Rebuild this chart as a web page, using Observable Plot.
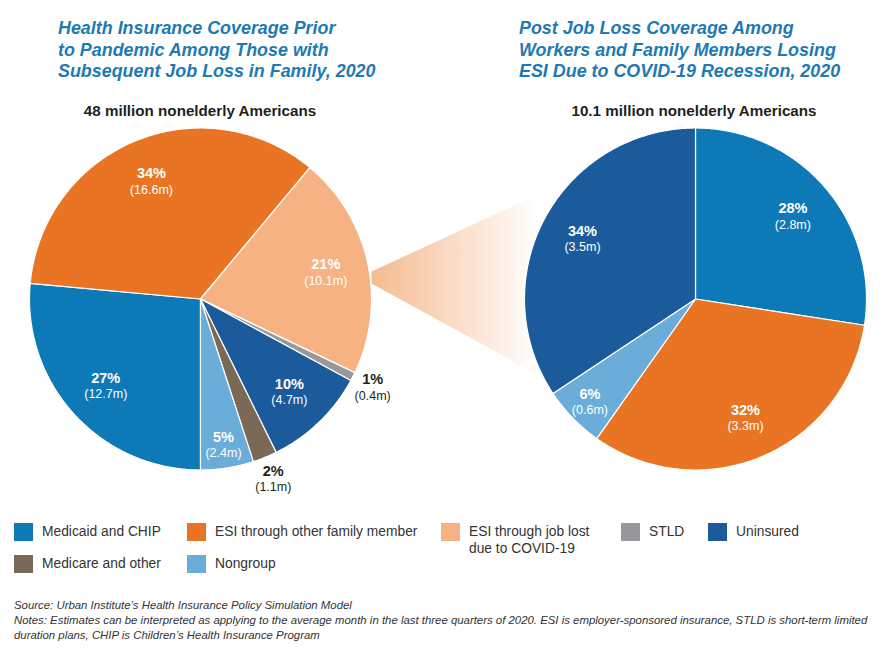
<!DOCTYPE html>
<html>
<head>
<meta charset="utf-8">
<script src="https://cdn.jsdelivr.net/npm/d3@7"></script>
<script src="https://cdn.jsdelivr.net/npm/@observablehq/plot@0.6"></script>
<style>
  html, body { margin: 0; padding: 0; background: #fff; }
  #wrap { position: relative; width: 889px; height: 651px; font-family: "Liberation Sans", Arial, sans-serif; overflow: hidden; }
  .title { position: absolute; top: 18px; font-size: 17.9px; font-weight: bold; font-style: italic; color: #2179b4; line-height: 21.5px; white-space: nowrap; }
  .sub { position: absolute; top: 102px; font-size: 15.2px; font-weight: bold; color: #231f20; transform: translateX(-50%); white-space: nowrap; }
  .leg { position: absolute; font-size: 13.8px; color: #333; line-height: 17px; }
  .sw { position: absolute; width: 19px; height: 18px; }
  .notes { position: absolute; left: 14px; top: 598px; font-size: 11.4px; font-style: italic; color: #333; line-height: 15px; white-space: nowrap; }
  #chart { position: absolute; left: 0; top: 115px; }
</style>
</head>
<body>
<div id="wrap">
  <div class="title" style="left:58px">Health Insurance Coverage Prior<br>to Pandemic Among Those with<br>Subsequent Job Loss in Family, 2020</div>
  <div class="title" style="left:519px">Post Job Loss Coverage Among<br>Workers and Family Members Losing<br>ESI Due to COVID-19 Recession, 2020</div>
  <div class="sub" style="left:200px">48 million nonelderly Americans</div>
  <div class="sub" style="left:694px">10.1 million nonelderly Americans</div>
  <div id="chart"></div>
  <div id="legend"></div>
  <div class="notes">Source: Urban Institute’s Health Insurance Policy Simulation Model<br>Notes: Estimates can be interpreted as applying to the average month in the last three quarters of 2020. ESI is employer-sponsored insurance, STLD is short-term limited<br>duration plans, CHIP is Children’s Health Insurance Program</div>
</div>
<script>
// ---------- data ----------
const categories = ["Medicaid and CHIP", "ESI through other family member", "ESI through job lost due to COVID-19", "STLD", "Uninsured", "Medicare and other", "Nongroup"];
const categoryColors = ["#0d79b7", "#e97524", "#f6b283", "#98989c", "#1b5b9b", "#7a6956", "#6badd9"];

const leftCats = ["Medicaid and CHIP", "ESI through other family member", "ESI through job lost due to COVID-19", "STLD", "Uninsured", "Medicare and other", "Nongroup"];
const leftValues = [12.7, 16.6, 10.1, 0.4, 4.7, 1.1, 2.4];
const leftPct = ["27%", "34%", "21%", "1%", "10%", "2%", "5%"];
const leftAmt = ["(12.7m)", "(16.6m)", "(10.1m)", "(0.4m)", "(4.7m)", "(1.1m)", "(2.4m)"];

const rightCats = ["Medicaid and CHIP", "ESI through other family member", "Nongroup", "Uninsured"];
const rightValues = [2.8, 3.3, 0.6, 3.5];
const rightPct = ["28%", "32%", "6%", "34%"];
const rightAmt = ["(2.8m)", "(3.3m)", "(0.6m)", "(3.5m)"];

// ---------- layout ----------
const W = 889, H = 385, svgTop = 115;
const R = 171, cyPage = 298.5, leftCx = 200, rightCx = 695;
const cy = cyPage - svgTop;
const xDomain = [-leftCx / R, (W - leftCx) / R];
const yDomain = [(cy - H) / R, cy / R];
const rightCenterU = (rightCx - leftCx) / R;
const toU = px => (px - leftCx) / R;
const toV = py => (cyPage - py) / R;

function buildPie(id, cats, values, pct, amt, startDeg, cu) {
  const total = d3.sum(values);
  let a = startDeg;
  const pts = [], labels = [];
  cats.forEach((c, i) => {
    const span = values[i] / total * 360;
    const a0 = a, a1 = a + span;
    const n = Math.max(2, Math.ceil(span / 0.5));
    pts.push({key: id + i, cat: c, x: cu, y: 0});
    for (let k = 0; k <= n; k++) {
      const t = (a0 + (a1 - a0) * k / n) * Math.PI / 180;
      pts.push({key: id + i, cat: c, x: cu + Math.sin(t), y: Math.cos(t)});
    }
    pts.push({key: id + i, cat: c, x: cu, y: 0});
    const share = values[i] / total;
    const mid = (a0 + a1) / 2 * Math.PI / 180;
    const outside = share < 0.03;
    const rr = outside ? 1.13 : share < 0.08 ? 0.86 : 0.75;
    labels.push({x: cu + rr * Math.sin(mid), y: rr * Math.cos(mid), pct: pct[i], amt: amt[i], outside});
    a = a1;
  });
  return {pts, labels};
}

const left = buildPie("L", leftCats, leftValues, leftPct, leftAmt, 180, 0);
const right = buildPie("R", rightCats, rightValues, rightPct, rightAmt, 0, rightCenterU);
const labels = left.labels.concat(right.labels);

// connector wedge (decorative) between the "job lost" slice and the right pie
const connector = [
  {x: toU(371), y: toV(271)},
  {x: toU(566), y: toV(181)},
  {x: toU(566), y: toV(390)},
  {x: toU(371), y: toV(283)}
];

const defsMark = () => {
  const ns = "http://www.w3.org/2000/svg";
  const defs = document.createElementNS(ns, "defs");
  const g = document.createElementNS(ns, "linearGradient");
  g.setAttribute("id", "connGrad");
  g.setAttribute("x1", "0"); g.setAttribute("x2", "1"); g.setAttribute("y1", "0"); g.setAttribute("y2", "0");
  [["0", "#f4bb91", "1"], ["0.5", "#fbe2d0", "1"], ["0.85", "#ffffff", "1"]].forEach(([o, c, op]) => {
    const s = document.createElementNS(ns, "stop");
    s.setAttribute("offset", o); s.setAttribute("stop-color", c); s.setAttribute("stop-opacity", op);
    g.appendChild(s);
  });
  defs.appendChild(g);
  return defs;
};

const chart = Plot.plot({
  width: W, height: H, margin: 0,
  x: {domain: xDomain, axis: null},
  y: {domain: yDomain, axis: null},
  color: {domain: categories, range: categoryColors},
  style: {fontFamily: "'Liberation Sans', Arial, sans-serif", background: "transparent"},
  marks: [
    defsMark,
    Plot.line(connector, {x: "x", y: "y", fill: "url(#connGrad)", stroke: "none"}),
    Plot.line(left.pts.concat(right.pts), {x: "x", y: "y", z: "key", fill: "cat", stroke: "white", strokeWidth: 1.2, strokeLinejoin: "round"}),
    Plot.text(labels, {x: "x", y: "y", text: "pct", dy: -7, fontSize: 14.5, fontWeight: "bold", fill: d => d.outside ? "#231f20" : "white"}),
    Plot.text(labels, {x: "x", y: "y", text: "amt", dy: 9, fontSize: 12.5, fill: d => d.outside ? "#231f20" : "white"})
  ]
});
document.getElementById("chart").appendChild(chart);

// ---------- legend ----------
const legendPos = [[14, 532], [187, 532], [441, 532], [621, 532], [708, 532], [14, 564], [187, 564]];
const legend = document.getElementById("legend");
categories.forEach((c, i) => {
  const [lx, ly] = legendPos[i];
  const sw = document.createElement("div");
  sw.className = "sw";
  sw.style.left = lx + "px"; sw.style.top = (ly - 9) + "px";
  sw.style.background = categoryColors[i];
  legend.appendChild(sw);
  const t = document.createElement("div");
  t.className = "leg";
  t.style.left = (lx + 28) + "px"; t.style.top = (ly - 9) + "px";
  t.style.width = "138px";
  t.textContent = c;
  if (c.length < 20 || i === 1) t.style.whiteSpace = "nowrap";
  legend.appendChild(t);
});
</script>
</body>
</html>
